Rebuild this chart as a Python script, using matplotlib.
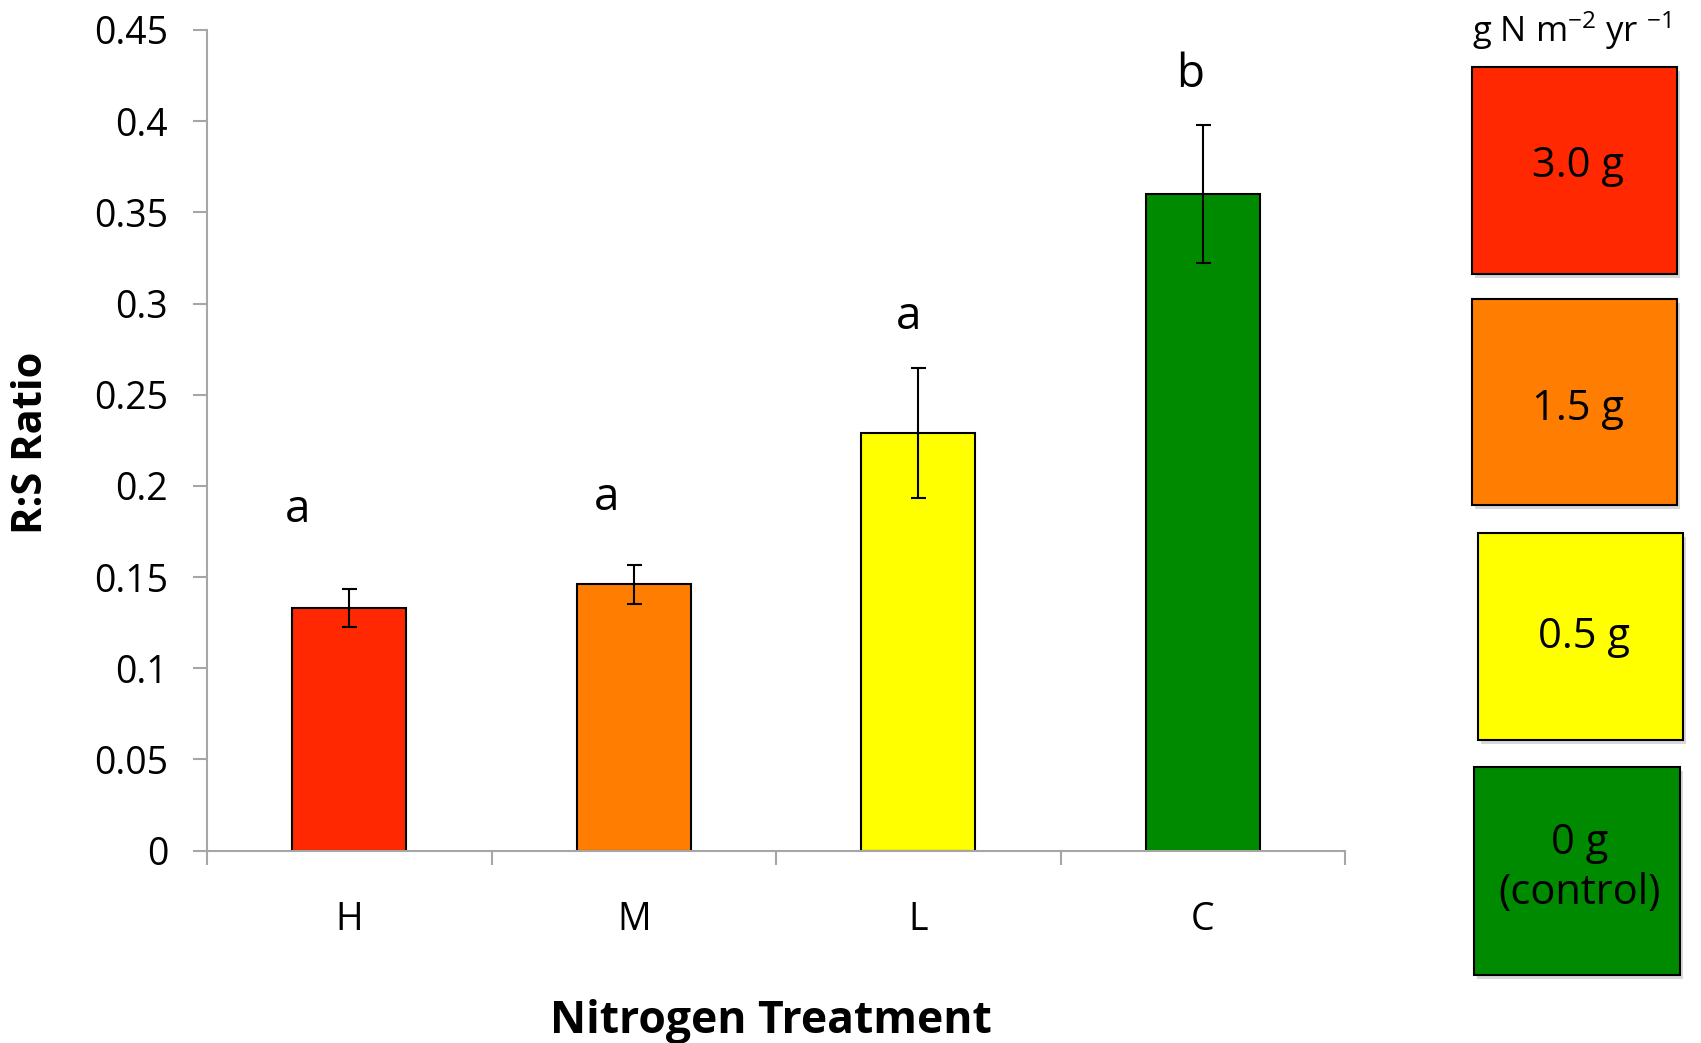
import matplotlib
matplotlib.use("Agg")
import matplotlib.pyplot as plt
from matplotlib.patches import Rectangle

plt.rcParams['font.family'] = ['Open Sans', 'DejaVu Sans']
plt.rcParams['mathtext.fontset'] = 'custom'
plt.rcParams['mathtext.rm'] = 'Open Sans'
plt.rcParams['mathtext.it'] = 'Open Sans'

# ---- data ----
categories = ["H", "M", "L", "C"]
rs_ratio = [0.133, 0.146, 0.229, 0.360]
rs_error = [0.0103, 0.0106, 0.0354, 0.0377]
bar_colors = ["#ff2800", "#ff7d00", "#ffff00", "#008a00"]
sig_letters = ["a", "a", "a", "b"]
sig_letter_y = [0.180, 0.187, 0.286, 0.419]
sig_letter_dx = [-0.18, -0.095, -0.034, -0.046]
legend_labels = ["3.0 g", "1.5 g", "0.5 g", "0 g\n(control)"]
yticks = [0, 0.05, 0.1, 0.15, 0.2, 0.25, 0.3, 0.35, 0.4, 0.45]
ytick_labels = ["0", "0.05", "0.1", "0.15", "0.2", "0.25", "0.3", "0.35", "0.4", "0.45"]

W, H = 1701, 1043
fig = plt.figure(figsize=(W / 100, H / 100), dpi=100)
ax = fig.add_axes([207 / W, 1 - 850.5 / H, (1345 - 207) / W, (850.5 - 30) / H])

x = list(range(len(categories)))
ax.bar(x, rs_ratio, width=0.4, color=bar_colors, edgecolor="black", linewidth=1.5, zorder=2)
ax.errorbar(x, rs_ratio, yerr=rs_error, fmt="none", ecolor="black", elinewidth=1.5,
            capsize=5.4, capthick=1.5, zorder=3)

for xi, dx, ly, lt in zip(x, sig_letter_dx, sig_letter_y, sig_letters):
    ax.text(xi + dx, ly, lt, ha="center", va="baseline", fontsize=33)

ax.set_xlim(-0.5, len(categories) - 0.5)
ax.set_ylim(0, 0.45)
ax.set_yticks(yticks)
ax.set_yticklabels(ytick_labels, fontsize=27)
ax.set_xticks([i - 0.5 for i in range(len(categories) + 1)])
ax.set_xticklabels([])
ax.set_xticks(x, minor=True)
ax.set_xticklabels(categories, minor=True, fontsize=27)

spine_col = "#a6a6a6"
for s in ["top", "right"]:
    ax.spines[s].set_visible(False)
for s in ["left", "bottom"]:
    ax.spines[s].set_color(spine_col)
    ax.spines[s].set_linewidth(1.5)
ax.tick_params(axis="y", which="major", direction="out", length=10, width=1.5,
               color=spine_col, pad=18)
ax.tick_params(axis="x", which="major", direction="out", length=10, width=1.5,
               color=spine_col)
ax.tick_params(axis="x", which="minor", length=0, pad=36)

fig.text(32 / W, 1 - 443 / H, "R:S Ratio", rotation=90, ha="center", va="center",
         fontsize=30, fontweight="bold")
fig.text(771 / W, 1 - 1022 / H, "Nitrogen Treatment", ha="center", va="center",
         fontsize=32, fontweight="bold")

# ---- legend boxes ----
boxes = [(1472, 67, 1677, 274), (1472, 299, 1677, 505),
         (1478, 533, 1683, 740), (1474, 767, 1680, 975)]
text_y = [166, 409, 637, 868]
for (x0, y0, x1, y1), col, lab, ty in zip(boxes, bar_colors, legend_labels, text_y):
    shadow = Rectangle((x0 / W + 3 / W, 1 - y1 / H - 4 / H), (x1 - x0) / W, (y1 - y0) / H,
                       transform=fig.transFigure, facecolor="#d8d8d8", edgecolor="none",
                       zorder=1)
    fig.patches.append(shadow)
    r = Rectangle((x0 / W, 1 - y1 / H), (x1 - x0) / W, (y1 - y0) / H,
                  transform=fig.transFigure, facecolor=col, edgecolor="black",
                  linewidth=1.5, zorder=2)
    fig.patches.append(r)
    fig.text((x0 + x1) / 2 / W + 3 / W, 1 - ty / H, lab, ha="center", va="center",
             fontsize=30, linespacing=1.25, zorder=3)

fig.text(1571 / W, 1 - 42 / H, r"g N m$^{\mathrm{-2}}$ yr $^{\mathrm{-1}}$",
         ha="center", va="baseline", fontsize=25)

fig.savefig("out.png", dpi=100)
